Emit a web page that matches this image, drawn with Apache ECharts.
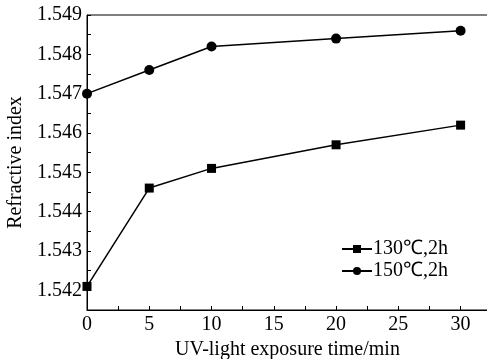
<!DOCTYPE html>
<html>
<head>
<meta charset="utf-8">
<script src="https://cdn.jsdelivr.net/npm/echarts@6/dist/echarts.min.js"></script>
<style>html,body{margin:0;padding:0;background:#fff}#c{width:487px;height:359px}</style>
</head>
<body>
<div id="c"></div>
<script>
const times = [0, 5, 10, 20, 30];
const series130 = [1.5421, 1.5446, 1.5451, 1.5457, 1.5462];
const series150 = [1.5470, 1.5476, 1.5482, 1.5484, 1.5486];
const seriesNames = ['130\u2103,2h', '150\u2103,2h'];
const xTitle = 'UV-light exposure time/min';
const yTitle = 'Refractive index';

const font = 'Liberation Serif';
const chart = echarts.init(document.getElementById('c'), null, {renderer: 'canvas'});
const pair = (ys) => times.map((t, i) => [t, ys[i]]);
chart.setOption({
  animation: false,
  backgroundColor: '#fff',
  textStyle: {fontFamily: font, color: '#000'},
  grid: {left: 87, top: 15, right: -1, bottom: 49, containLabel: false, outerBoundsMode: 'none',
    show: true, borderColor: '#000', borderWidth: 1, backgroundColor: 'transparent'},
  legend: {
    left: 336, top: 234, orient: 'vertical', itemGap: 2, itemWidth: 30, itemHeight: 10,
    textStyle: {fontFamily: font, fontSize: 20, color: '#000', padding: [0,0,0,-4]},
    data: seriesNames
  },
  xAxis: {
    type: 'value', min: 0, max: 32.2, interval: 2.5,
    name: xTitle, nameLocation: 'middle', nameGap: 26,
    nameTextStyle: {fontFamily: font, fontSize: 20, color: '#000'},
    axisLine: {lineStyle: {color: '#000', width: 1}},
    axisTick: {inside: true, length: 4, lineStyle: {color: '#000'}},
    splitLine: {show: false},
    axisLabel: {fontFamily: font, fontSize: 20, color: '#000', margin: 5, showMaxLabel: false,
      formatter: v => (Math.abs(v / 5 - Math.round(v / 5)) < 1e-6) ? String(Math.round(v)) : ''}
  },
  yAxis: {
    type: 'value', min: 1.5415, max: 1.549, interval: 0.0005,
    name: yTitle, nameLocation: 'middle', nameGap: 60,
    nameTextStyle: {fontFamily: font, fontSize: 20, color: '#000'},
    axisLine: {lineStyle: {color: '#000', width: 1}},
    axisTick: {inside: true, length: 4, lineStyle: {color: '#000'}},
    splitLine: {show: false},
    axisLabel: {fontFamily: font, fontSize: 20, color: '#000', margin: 5,
      formatter: v => (Math.abs(v * 1000 - Math.round(v * 1000)) < 1e-6) ? v.toFixed(3) : ''}
  },
  series: [
    {name: seriesNames[0], type: 'line', data: pair(series130), symbol: 'rect', symbolSize: 9,
      lineStyle: {color: '#000', width: 1.5}, itemStyle: {color: '#000'}},
    {name: seriesNames[1], type: 'line', data: pair(series150), symbol: 'circle', symbolSize: 10,
      lineStyle: {color: '#000', width: 1.5}, itemStyle: {color: '#000'}}
  ]
});
</script>
</body>
</html>
